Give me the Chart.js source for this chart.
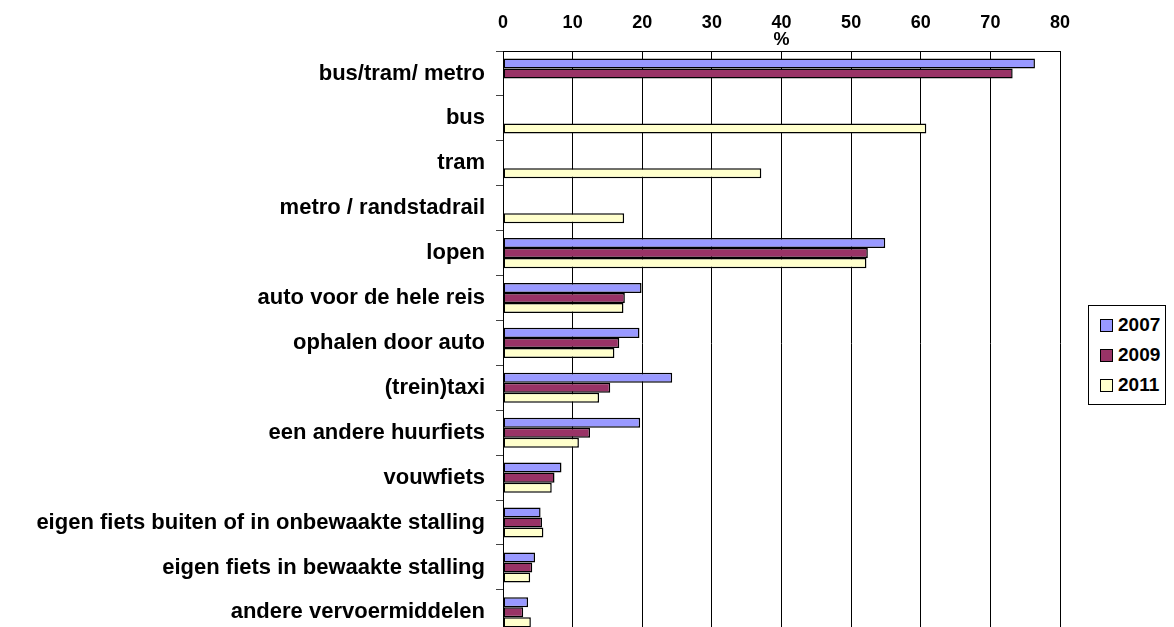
<!DOCTYPE html>
<html>
<head>
<meta charset="utf-8">
<script src="https://cdn.jsdelivr.net/npm/chart.js@4"></script>
<style>
  html, body { margin: 0; padding: 0; background: #fff; }
  #wrap { position: relative; width: 1174px; height: 627px; overflow: hidden; }
  #chart-vervoer { position: absolute; left: 0; top: 0; }
  .legend {
    position: absolute; left: 1088px; top: 305px; width: 76px;
    border: 1px solid #000; background: #fff; padding: 4px 0 4px 0;
    font: bold 19px "Liberation Sans", Arial, sans-serif; color: #000;
  }
  .legend-item { display: flex; align-items: center; height: 30px; padding-left: 11px; }
  .legend-box { width: 11px; height: 11px; border: 1px solid #000; margin-right: 5px; }
</style>
</head>
<body>
<div id="wrap">
  <canvas id="chart-vervoer" width="1174" height="659"></canvas>
  <div class="legend" id="legend"></div>
</div>
<script>
// vervoerwijze naar/van station, % per jaar
const categorieen = [
  'bus/tram/ metro', 'bus', 'tram', 'metro / randstadrail', 'lopen',
  'auto voor de hele reis', 'ophalen door auto', '(trein)taxi',
  'een andere huurfiets', 'vouwfiets',
  'eigen fiets buiten of in onbewaakte stalling',
  'eigen fiets in bewaakte stalling', 'andere vervoermiddelen'
];
const jaren = ['2007', '2009', '2011'];
const waarden2007 = [76.4, null, null, null, 54.9, 19.9, 19.6, 24.3, 19.7, 8.4, 5.4, 4.6, 3.6];
const waarden2009 = [73.2, null, null, null, 52.4, 17.5, 16.7, 15.4, 12.5, 7.4, 5.6, 4.2, 2.9];
const waarden2011 = [null, 60.8, 37.1, 17.4, 52.2, 17.3, 16.0, 13.8, 10.9, 7.0, 5.8, 3.9, 4.0];
const xTicks = [0, 10, 20, 30, 40, 50, 60, 70, 80];
const kleuren = ['#9999FF', '#993366', '#FFFFCC'];

const FONT = '"Liberation Sans", Arial, sans-serif';

// "%" onder de 40-label van de x-as
const procentLabel = {
  id: 'procentLabel',
  afterDraw(chart) {
    const { ctx, chartArea, scales } = chart;
    ctx.save();
    ctx.font = 'bold 18px ' + FONT;
    ctx.fillStyle = '#000';
    ctx.textAlign = 'center';
    ctx.textBaseline = 'alphabetic';
    ctx.fillText('%', scales.x.getPixelForValue(40), chartArea.top - 6);
    ctx.restore();
  }
};

new Chart(document.getElementById('chart-vervoer'), {
  type: 'bar',
  data: {
    labels: categorieen,
    datasets: [waarden2007, waarden2009, waarden2011].map((d, i) => ({
      label: jaren[i],
      data: d,
      backgroundColor: kleuren[i],
      borderColor: '#000',
      borderWidth: 1.5,
      borderSkipped: false,
      categoryPercentage: 0.67,
      barPercentage: 1.0,
    })),
  },
  options: {
    indexAxis: 'y',
    responsive: false,
    animation: false,
    layout: { padding: { top: 0, right: 114, bottom: 10, left: 0 } },
    plugins: { legend: { display: false }, tooltip: { enabled: false } },
    scales: {
      x: {
        position: 'top',
        min: 0,
        max: 80,
        afterBuildTicks: s => { s.ticks = xTicks.map(v => ({ value: v })); },
        afterFit: s => { s.height = 51; },
        ticks: { color: '#000', font: { family: FONT, size: 18, weight: 'bold' }, padding: 17 },
        grid: { color: '#000', lineWidth: 1, drawTicks: false },
        border: { display: true, color: '#000', width: 1 },
      },
      y: {
        afterFit: s => { s.width = 503; },
        ticks: { color: '#000', font: { family: FONT, size: 22, weight: 'bold' }, padding: 11, autoSkip: false },
        grid: { drawOnChartArea: false, color: '#444', tickLength: 7 },
        border: { display: true, color: '#000', width: 1 },
      },
    },
  },
  plugins: [procentLabel],
});

document.getElementById('legend').innerHTML = jaren.map((j, i) => `
  <div class="legend-item"><span class="legend-box" style="background:${kleuren[i]}"></span>${j}</div>`).join('');
</script>
</body>
</html>
